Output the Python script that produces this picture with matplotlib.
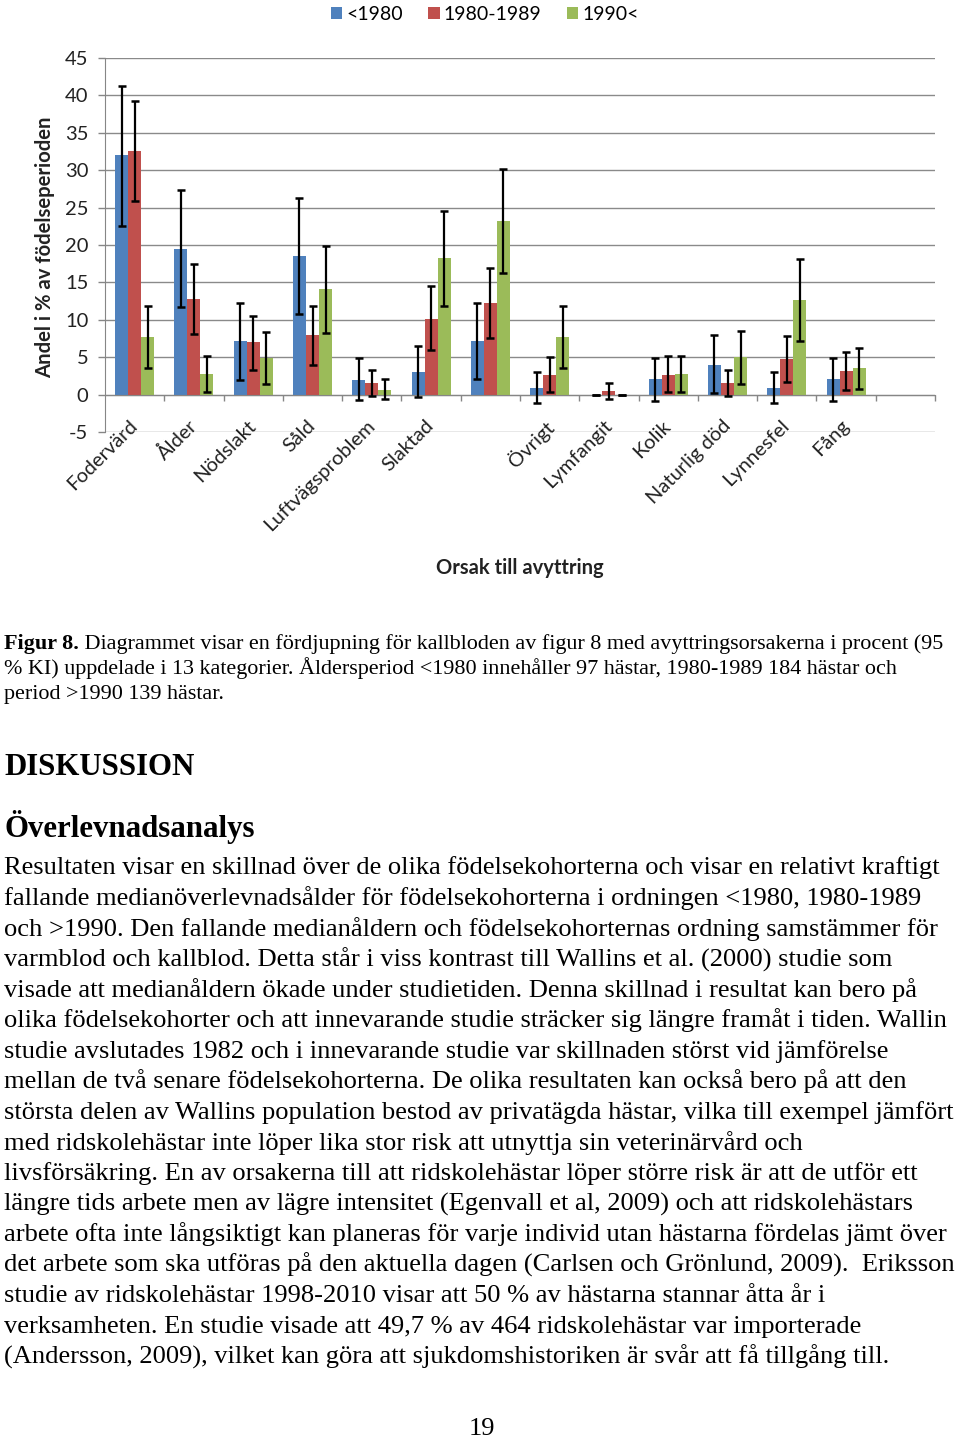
import numpy as np
import matplotlib
matplotlib.use("Agg")
import matplotlib.pyplot as plt
from matplotlib.patches import Patch

nan = np.nan
categories = ["Fodervärd", "Ålder", "Nödslakt", "Såld", "Luftvägsproblem", "Slaktad", "",
              "Övrigt", "Lymfangit", "Kolik", "Naturlig död", "Lynnesfel", "Fång", ""]
series_names = ["<1980", "1980-1989", "1990<"]

pre1980 = [32.0, 19.5, 7.1, 18.5, 2.0, 3.0, 7.1, 0.9, 0.0, 2.05, 4.0, 0.93, 2.05, nan]
pre1980_lo = [22.6, 11.7, 2.0, 10.8, -0.75, -0.35, 2.05, -1.1, 0.0, -0.8, 0.2, -1.07, -0.8, nan]
pre1980_hi = [41.2, 27.4, 12.2, 26.3, 4.85, 6.5, 12.3, 3.07, 0.0, 4.9, 8.0, 3.0, 4.9, nan]

y1980s = [32.5, 12.8, 7.0, 8.0, 1.55, 10.1, 12.2, 2.6, 0.5, 2.6, 1.55, 4.7, 3.1, nan]
y1980s_lo = [25.9, 8.05, 3.3, 4.0, -0.2, 5.9, 7.55, 0.35, -0.6, 0.35, -0.2, 1.7, 0.6, nan]
y1980s_hi = [39.2, 17.5, 10.5, 11.8, 3.3, 14.55, 16.95, 5.0, 1.5, 5.1, 3.3, 7.9, 5.75, nan]

post1990 = [7.7, 2.76, 4.9, 14.1, 0.6, 18.2, 23.2, 7.7, 0.0, 2.75, 5.0, 12.7, 3.5, nan]
post1990_lo = [3.5, 0.35, 1.4, 8.3, -0.6, 11.8, 16.2, 3.5, 0.0, 0.35, 1.4, 7.2, 0.8, nan]
post1990_hi = [11.8, 5.2, 8.4, 19.8, 2.05, 24.6, 30.1, 11.8, 0.0, 5.2, 8.5, 18.1, 6.2, nan]

yticks = [-5, 0, 5, 10, 15, 20, 25, 30, 35, 40, 45]

caption_lines = [
    " Diagrammet visar en fördjupning för kallbloden av figur 8 med avyttringsorsakerna i procent (95",
    "% KI) uppdelade i 13 kategorier. Åldersperiod <1980 innehåller 97 hästar, 1980-1989 184 hästar och",
    "period >1990 139 hästar.",
]
body_lines = [
    "Resultaten visar en skillnad över de olika födelsekohorterna och visar en relativt kraftigt",
    "fallande medianöverlevnadsålder för födelsekohorterna i ordningen <1980, 1980-1989",
    "och >1990. Den fallande medianåldern och födelsekohorternas ordning samstämmer för",
    "varmblod och kallblod. Detta står i viss kontrast till Wallins et al. (2000) studie som",
    "visade att medianåldern ökade under studietiden. Denna skillnad i resultat kan bero på",
    "olika födelsekohorter och att innevarande studie sträcker sig längre framåt i tiden. Wallin",
    "studie avslutades 1982 och i innevarande studie var skillnaden störst vid jämförelse",
    "mellan de två senare födelsekohorterna. De olika resultaten kan också bero på att den",
    "största delen av Wallins population bestod av privatägda hästar, vilka till exempel jämfört",
    "med ridskolehästar inte löper lika stor risk att utnyttja sin veterinärvård och",
    "livsförsäkring. En av orsakerna till att ridskolehästar löper större risk är att de utför ett",
    "längre tids arbete men av lägre intensitet (Egenvall et al, 2009) och att ridskolehästars",
    "arbete ofta inte långsiktigt kan planeras för varje individ utan hästarna fördelas jämt över",
    "det arbete som ska utföras på den aktuella dagen (Carlsen och Grönlund, 2009).  Eriksson",
    "studie av ridskolehästar 1998-2010 visar att 50 % av hästarna stannar åtta år i",
    "verksamheten. En studie visade att 49,7 % av 464 ridskolehästar var importerade",
    "(Andersson, 2009), vilket kan göra att sjukdomshistoriken är svår att få tillgång till.",
]

W, H = 960, 1441
fig = plt.figure(figsize=(W / 100, H / 100), dpi=100)
fig.patch.set_facecolor("white")
ax = fig.add_axes([105 / W, 1 - 432 / H, 830 / W, 374 / H])

colors = ["#4F81BD", "#C0504D", "#9BBB59"]
vals = [pre1980, y1980s, post1990]
los = [pre1980_lo, y1980s_lo, post1990_lo]
his = [pre1980_hi, y1980s_hi, post1990_hi]
x = np.arange(len(categories))
bw = 0.22
for k in range(3):
    v = np.array(vals[k], float)
    lo = np.array(los[k], float)
    hi = np.array(his[k], float)
    m = ~np.isnan(v)
    xs = x[m] + (k - 1) * bw
    ax.bar(xs, v[m], width=bw, color=colors[k], zorder=2, linewidth=0)
    ax.errorbar(xs, v[m], yerr=[v[m] - lo[m], hi[m] - v[m]], fmt="none",
                ecolor="black", elinewidth=1.6, capsize=2.8, capthick=1.8, zorder=3)

ax.set_xlim(-0.5, len(categories) - 0.5)
ax.set_ylim(-5, 45)
ax.set_yticks(yticks)
ax.set_yticklabels([str(t) for t in yticks], fontsize=14.5, family="Lato", color="#222222")
ax.yaxis.grid(True, color="#8a8a8a", lw=1.0)
ax.set_axisbelow(True)
for s in ["top", "right"]:
    ax.spines[s].set_visible(False)
ax.spines["left"].set_color("#868686")
ax.spines["bottom"].set_color("#868686")
ax.spines["bottom"].set_position(("data", 0))
ax.set_xticks(np.arange(0.5, len(categories), 1.0))
ax.set_xticklabels([])
ax.tick_params(axis="x", direction="out", length=4.5, color="#868686", width=1)
ax.tick_params(axis="y", direction="out", length=5, color="#868686", width=1, pad=7)

for i, lab in enumerate(categories):
    if lab:
        ax.text(i - 0.1, -3.0, lab, rotation=45, ha="right", va="top",
                rotation_mode="anchor", fontsize=14.5, family="Lato", color="#222222")

fig.text(45 / W, 1 - 247 / H, "Andel i % av födelseperioden", rotation=90, ha="center",
         va="center", fontsize=14.6, weight="bold", family="Lato", color="#222222")
fig.text(520 / W, 1 - 568 / H, "Orsak till avyttring", ha="center", va="center",
         fontsize=14.5, weight="bold", family="Lato", color="#222222")

handles = [Patch(facecolor=c, edgecolor="none") for c in colors]
fig.legend(handles, series_names, loc="upper center", bbox_to_anchor=(0.505, 1.008), ncol=3,
           frameon=False, handlelength=0.6, handleheight=0.6, handletextpad=0.2,
           columnspacing=1.3, prop={"family": "Lato", "size": 14})

def T(xp, yp, s, size, weight="normal", ha="left"):
    return fig.text(xp / W, 1 - yp / H, s, fontsize=size, weight=weight, ha=ha,
                    va="baseline", family="Liberation Serif", color="black")

renderer = fig.canvas.get_renderer()
cap_size = 15.92
t0 = T(4, 649, "Figur 8.", cap_size, weight="bold")
ext = t0.get_window_extent(renderer=renderer)
T(ext.x1, 649, caption_lines[0], cap_size)
T(4, 674, caption_lines[1], cap_size)
T(4, 699, caption_lines[2], cap_size)

T(4, 775, "DISKUSSION", 22.2, weight="bold")
T(4, 837, "Överlevnadsanalys", 22.2, weight="bold")

for k, line in enumerate(body_lines):
    T(4, 874.5 + 30.56 * k, line, 19.05)

T(482, 1435, "19", 19.05, ha="center")

fig.savefig("out.png", dpi=100)
